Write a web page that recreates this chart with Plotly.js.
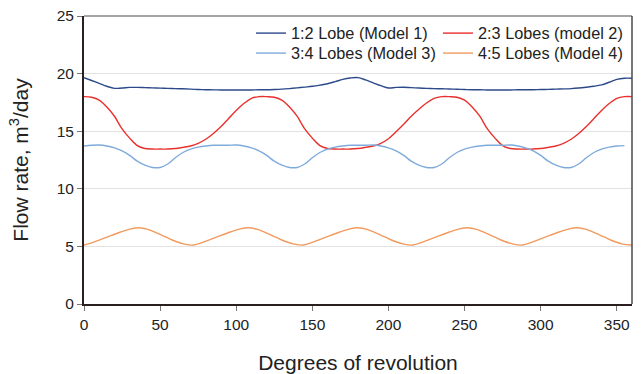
<!DOCTYPE html>
<html>
<head>
<meta charset="utf-8">
<script src="https://cdn.plot.ly/plotly-3.0.1.min.js"></script>
<style>html,body{margin:0;padding:0;background:#fff;}#chart{width:644px;height:374px;}</style>
</head>
<body>
<div id="chart"></div>
<script>
// Degrees of revolution (step 5) for models 1-3
const deg5 = [0,5,10,15,20,25,30,35,40,45,50,55,60,65,70,75,80,85,90,95,100,105,110,115,120,125,130,135,140,145,150,155,160,165,170,175,180,185,190,195,200,205,210,215,220,225,230,235,240,245,250,255,260,265,270,275,280,285,290,295,300,305,310,315,320,325,330,335,340,345,350,355,360];
// Degrees of revolution (step 6) for model 4
const deg6 = [0,6,12,18,24,30,36,42,48,54,60,66,72,78,84,90,96,102,108,114,120,126,132,138,144,150,156,162,168,174,180,186,192,198,204,210,216,222,228,234,240,246,252,258,264,270,276,282,288,294,300,306,312,318,324,330,336,342,348,354,360];

const model1 = [19.65,19.4,19.15,18.9,18.72,18.75,18.8,18.8,18.78,18.76,18.74,18.72,18.7,18.68,18.65,18.62,18.6,18.59,18.58,18.58,18.58,18.58,18.58,18.6,18.6,18.62,18.65,18.7,18.76,18.83,18.9,19.0,19.12,19.3,19.5,19.62,19.65,
  19.45,19.2,18.95,18.75,18.8,18.82,18.78,18.75,18.72,18.7,18.68,18.66,18.64,18.62,18.6,18.6,18.58,18.58,18.58,18.58,18.6,18.6,18.6,18.62,18.63,18.65,18.67,18.7,18.75,18.82,18.9,19.02,19.25,19.5,19.6,19.6];

const model2 = [18.0,17.95,17.7,17.1,16.3,15.2,14.4,13.75,13.5,13.45,13.45,13.45,13.5,13.6,13.72,13.95,14.3,14.8,15.4,16.1,16.8,17.4,17.85,18.0,18.0,
  17.95,17.7,17.1,16.3,15.2,14.4,13.75,13.5,13.45,13.45,13.45,13.5,13.6,13.72,13.95,14.35,14.95,15.6,16.3,16.9,17.45,17.85,18.0,18.0,
  17.95,17.7,17.1,16.3,15.2,14.4,13.75,13.5,13.45,13.45,13.45,13.5,13.6,13.72,13.95,14.3,14.8,15.4,16.1,16.8,17.4,17.85,18.0,18.0];

const model3 = [13.72,13.78,13.8,13.72,13.55,13.3,12.9,12.4,12.05,11.85,11.85,12.15,12.7,13.15,13.45,13.62,13.72,13.78,13.78,
  13.78,13.8,13.72,13.55,13.3,12.9,12.4,12.05,11.85,11.85,12.15,12.7,13.15,13.45,13.62,13.72,13.78,13.78,
  13.78,13.8,13.72,13.55,13.3,12.9,12.4,12.05,11.85,11.85,12.15,12.7,13.15,13.45,13.62,13.72,13.78,13.78,
  13.78,13.8,13.72,13.55,13.3,12.9,12.4,12.05,11.85,11.85,12.15,12.7,13.15,13.45,13.62,13.72,13.75];

const model4 = [5.12,5.35,5.65,5.95,6.25,6.5,6.62,6.48,6.15,5.8,5.45,5.2,5.12,
  5.35,5.65,5.95,6.25,6.5,6.62,6.48,6.15,5.8,5.45,5.2,5.12,
  5.35,5.65,5.95,6.25,6.5,6.62,6.48,6.15,5.8,5.45,5.2,5.12,
  5.35,5.65,5.95,6.25,6.5,6.62,6.48,6.15,5.8,5.45,5.2,5.12,
  5.35,5.65,5.95,6.25,6.5,6.62,6.48,6.15,5.8,5.45,5.2,5.12];

const names = ['1:2 Lobe (Model 1)','2:3 Lobes (model 2)','3:4 Lobes (Model 3)','4:5 Lobes (Model 4)'];
const colors = ['#2c4a8a','#e8302c','#7fabdc','#f29a5e'];

const font = 'Liberation Sans, Arial, sans-serif';

const traces = [
  {x: deg5, y: model1, name: names[0], legend: 'legend', line: {color: colors[0], width: 1.4, shape: 'spline'}},
  {x: deg5, y: model2, name: names[1], legend: 'legend2', line: {color: colors[1], width: 1.4, shape: 'spline'}},
  {x: deg5, y: model3, name: names[2], legend: 'legend3', line: {color: colors[2], width: 1.4, shape: 'spline'}},
  {x: deg6, y: model4, name: names[3], legend: 'legend4', line: {color: colors[3], width: 1.4, shape: 'spline'}}
].map(t => Object.assign({type: 'scatter', mode: 'lines', hoverinfo: 'skip'}, t));

const legendCommon = {
  orientation: 'v', bgcolor: 'rgba(0,0,0,0)', borderwidth: 0,
  font: {family: font, size: 16.3, color: '#222'},
  itemwidth: 30, tracegroupgap: 0,
  xanchor: 'left', yanchor: 'top', xref: 'paper', yref: 'paper'
};
const col1 = (251-84)/548, col2 = (438-84)/548;
const row1 = 1.0, row2 = 1.0 - 20/288;

const layout = {
  width: 644, height: 374,
  margin: {l: 84, r: 12, t: 16, b: 70},
  paper_bgcolor: '#fff', plot_bgcolor: '#fff',
  font: {family: font, color: '#222'},
  showlegend: true,
  legend: Object.assign({}, legendCommon, {x: col1, y: row1}),
  legend2: Object.assign({}, legendCommon, {x: col2, y: row1}),
  legend3: Object.assign({}, legendCommon, {x: col1, y: row2}),
  legend4: Object.assign({}, legendCommon, {x: col2, y: row2}),
  xaxis: {
    range: [0, 360], tickvals: [0,50,100,150,200,250,300,350],
    showgrid: false, zeroline: false,
    showline: true, linecolor: '#2a1e1e', linewidth: 2,
    ticks: 'outside', ticklen: 5, tickcolor: '#777', tickwidth: 1,
    tickfont: {family: font, size: 15.5, color: '#222'},
    title: {text: 'Degrees of revolution', font: {family: font, size: 21, color: '#222'}, standoff: 26}
  },
  yaxis: {
    range: [0, 25], tickvals: [0,5,10,15,20,25],
    showgrid: true, gridcolor: '#e2e2e2', gridwidth: 1, zeroline: false,
    showline: true, linecolor: '#2a1e1e', linewidth: 2,
    ticks: 'outside', ticklen: 5, tickcolor: '#777', tickwidth: 1,
    tickfont: {family: font, size: 15.5, color: '#222'},
    title: {text: 'Flow rate, m<sup>3</sup>/day', font: {family: font, size: 21, color: '#222'}, standoff: 22}
  },
  shapes: [
    {type: 'line', xref: 'paper', yref: 'paper', x0: 0, x1: 1, y0: 1, y1: 1, line: {color: '#4a4a4a', width: 1}},
    {type: 'line', xref: 'paper', yref: 'paper', x0: 1, x1: 1, y0: 0, y1: 1, line: {color: '#4a4a4a', width: 1.5}}
  ]
};

Plotly.newPlot('chart', traces, layout, {staticPlot: true, displayModeBar: false});
</script>
</body>
</html>
